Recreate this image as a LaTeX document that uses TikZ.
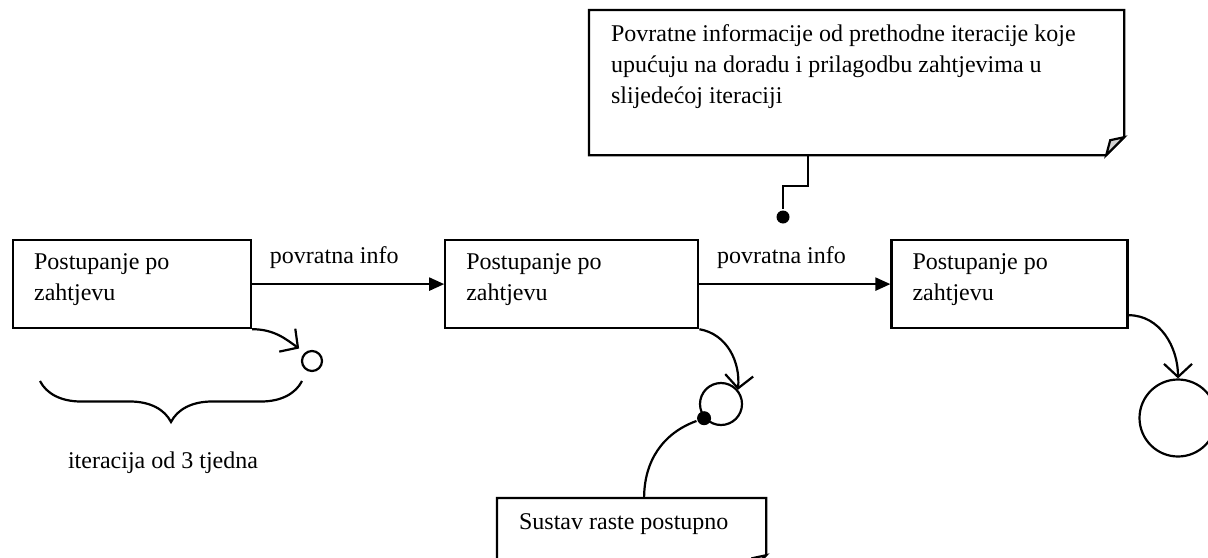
\documentclass[tikz,border=0pt]{standalone}
\usepackage{fontspec}
\setmainfont{Liberation Serif}
\usetikzlibrary{positioning,arrows.meta,decorations.pathreplacing}

% text held at the top of a box of fixed size
\newcommand{\toptext}[3]{\parbox[c][#2][t]{#1}{\raggedright #3}}
% note outline with folded corner
\newcommand{\noteoutline}[1]{%
  \draw (#1.north west) -- (#1.north east) -- ([yshift=9pt]#1.south east)
    -- ([xshift=-9pt]#1.south east) -- (#1.south west) -- cycle;
  \filldraw[fill=gray!35] ([yshift=9pt]#1.south east)
    -- ([xshift=-7pt,yshift=7.5pt]#1.south east)
    -- ([xshift=-9pt]#1.south east) -- cycle;}

\begin{document}
\begin{tikzpicture}[
    x=0.5pt, y=-0.5pt,
    line width=1.1pt,
    every node/.style={font=\fontsize{12}{15.5}\selectfont},
    stepbox/.style={draw, rectangle, inner xsep=10.5pt, inner ysep=7pt, anchor=north west},
    notebox/.style={rectangle, inner xsep=10.5pt, inner ysep=7pt, anchor=north west},
    release/.style={draw, circle, inner sep=0pt},
    joint/.style={fill, circle, inner sep=0pt},
    flow/.style={-{Triangle[length=7.5pt,width=6.5pt]}},
    growth/.style={-{Straight Barb[length=6.5pt,width=14pt]}},
    infolabel/.style={anchor=base west, pos=0, xshift=5pt, yshift=10.5pt}
]
\useasboundingbox (0,0) rectangle (1208,557);
\clip (0,0) rectangle (1208,557);

% Iterations
\node[stepbox] (b1) at (12,239) {\toptext{98pt}{30pt}{Postupanje po\\zahtjevu}};
\node[stepbox, right=96pt of b1] (b2) {\toptext{105.5pt}{30pt}{Postupanje po\\zahtjevu}};
\node[stepbox, right=95.5pt of b2] (b3) {\toptext{97pt}{30pt}{Postupanje po\\zahtjevu}};

\draw[flow] (b1) -- (b2) node[infolabel] {povratna info};
\draw[flow] (b2) -- (b3) node[infolabel] {povratna info};

% Releases
\node[release, minimum size=10pt] (c1) at (312,361) {};
\node[release, minimum size=21pt] (c2) at (721,404) {};
\node[release, minimum size=38.5pt] (c3) at (1178,418) {};

\draw[growth, shorten >=3.5pt] (b1.south east) to[out=0, in=145] (c1.130);
\draw[growth] (b2.south east) to[out=-10, in=85] (c2.40);
\draw[growth] ([yshift=7pt]b3.south east) to[out=0, in=90] (c3.north);

% Iteration length
\draw[decorate, decoration={brace, mirror, amplitude=20.5pt}] (40,381) -- (302,381);
\node[anchor=base] (it) at (163,468) {iteracija od 3 tjedna};

% Notes
\node[notebox] (fb) at (589,10) {\toptext{245.5pt}{57.5pt}{Povratne informacije od prethodne iteracije koje\\upućuju na doradu i prilagodbu zahtjevima u\\slijedećoj iteraciji}};
\noteoutline{fb}
\node[joint, minimum size=6.5pt] (d1) at (783,217) {};
\draw ([xshift=-24.25pt]fb.south) -- ++(0,31) -| (d1.north);

\node[notebox] (sn) at (497,498) {\toptext{112.5pt}{22.5pt}{Sustav raste postupno}};
\noteoutline{sn}
\node[joint, minimum size=7pt] (d2) at (c2.220) {};
\draw (d2) to[out=200, in=90] ([xshift=6.25pt]sn.north);

\end{tikzpicture}
\end{document}
